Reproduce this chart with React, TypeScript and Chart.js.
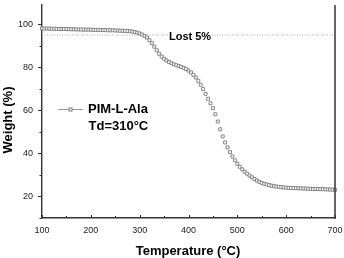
import React, { useEffect, useRef } from "react";
import { Chart, registerables } from "chart.js";

Chart.register(...registerables);

const temperatures = [
  100, 105, 110, 115, 120, 125, 130, 135, 140, 145, 150, 155, 160, 165, 170, 175, 180, 185, 190, 195,
  200, 205, 210, 215, 220, 225, 230, 235, 240, 245, 250, 255, 260, 265, 270, 275, 280, 285, 290, 295,
  300, 305, 310, 315, 320, 325, 330, 335, 340, 345, 350, 355, 360, 365, 370, 375, 380, 385, 390, 395,
  400, 405, 410, 415, 420, 425, 430, 435, 440, 445, 450, 455, 460, 465, 470, 475, 480, 485, 490, 495,
  500, 505, 510, 515, 520, 525, 530, 535, 540, 545, 550, 555, 560, 565, 570, 575, 580, 585, 590, 595,
  600, 605, 610, 615, 620, 625, 630, 635, 640, 645, 650, 655, 660, 665, 670, 675, 680, 685, 690, 695,
  700,
];

const weights = [
  98.1, 98.0, 98.0, 98.0, 97.9, 97.9, 97.9, 97.8, 97.8, 97.8, 97.8, 97.7, 97.7, 97.7, 97.6, 97.6, 97.6, 97.5, 97.5, 97.5,
  97.5, 97.4, 97.4, 97.4, 97.3, 97.3, 97.3, 97.2, 97.2, 97.2, 97.1, 97.1, 97.0, 97.0, 96.9, 96.9, 96.8, 96.6, 96.4, 96.1,
  95.7, 95.2, 94.6, 93.8, 92.6, 91.2, 89.6, 87.9, 86.3, 85.0, 84.0, 83.2, 82.5, 81.9, 81.4, 81.0, 80.6, 80.2, 79.8, 79.2,
  78.5, 77.6, 76.5, 75.3, 73.7, 71.9, 69.9, 67.7, 65.4, 63.3, 61.0, 58.2, 54.8, 51.2, 47.9, 45.1, 42.8, 40.6, 38.6, 36.8,
  35.2, 33.8, 32.6, 31.5, 30.6, 29.7, 28.9, 28.1, 27.4, 26.8, 26.3, 25.9, 25.6, 25.3, 25.0, 24.8, 24.6, 24.5, 24.3, 24.2,
  24.1, 24.0, 24.0, 23.9, 23.9, 23.8, 23.8, 23.7, 23.7, 23.6, 23.6, 23.5, 23.5, 23.5, 23.4, 23.4, 23.3, 23.3, 23.2, 23.2,
  23.1,
];

const xTicks = [100, 200, 300, 400, 500, 600, 700];
const xMinorTicks = [150, 250, 350, 450, 550, 650];
const yTicks = [20, 40, 60, 80, 100];
const yMinorTicks = [10, 30, 50, 70, 90];
const lostLevel = 95;
const lostRange = [100, 700];
const lostLabel = "Lost 5%";
const lostLabelAt = 360;
const seriesName = "PIM-L-Ala";
const tdLabel = "Td=310°C";
const xTitle = "Temperature (°C)";
const yTitle = "Weight (%)";

const FONT = "'Liberation Sans', Arial, Helvetica, sans-serif";
const AXIS_COLOR = "#333";
const MARK_COLOR = "#7a7a7a";

const decorPlugin = {
  id: "decor",
  afterDatasetsDraw(chart: any) {
    const { ctx, chartArea, scales } = chart;
    const xs = scales.x;
    const ys = scales.y;
    ctx.save();
    // Lost 5% label
    ctx.font = `bold 11px ${FONT}`;
    ctx.textBaseline = "middle";
    ctx.textAlign = "left";
    const lx = xs.getPixelForValue(lostLabelAt);
    const ly = ys.getPixelForValue(lostLevel);
    const w = ctx.measureText(lostLabel).width;
    ctx.fillStyle = "#fff";
    ctx.fillRect(lx - 1, ly - 5, w + 2, 10);
    ctx.fillStyle = "#000";
    ctx.fillText(lostLabel, lx, ly + 1.5);

    // right border
    ctx.strokeStyle = AXIS_COLOR;
    ctx.lineWidth = 1.5;
    ctx.beginPath();
    ctx.moveTo(chartArea.right, chartArea.top);
    ctx.lineTo(chartArea.right, chartArea.bottom + 0.75);
    ctx.stroke();

    // ticks
    ctx.lineWidth = 1;
    ctx.beginPath();
    xTicks.forEach((v) => {
      const p = Math.round(xs.getPixelForValue(v)) + 0.5;
      ctx.moveTo(p, chartArea.bottom);
      ctx.lineTo(p, chartArea.bottom - 3);
    });
    xMinorTicks.forEach((v) => {
      const p = Math.round(xs.getPixelForValue(v)) + 0.5;
      ctx.moveTo(p, chartArea.bottom);
      ctx.lineTo(p, chartArea.bottom - 2);
    });
    yTicks.forEach((v) => {
      const p = Math.round(ys.getPixelForValue(v)) + 0.5;
      ctx.moveTo(chartArea.left, p);
      ctx.lineTo(chartArea.left - 4, p);
    });
    yMinorTicks.forEach((v) => {
      const p = Math.round(ys.getPixelForValue(v)) + 0.5;
      ctx.moveTo(chartArea.left, p);
      ctx.lineTo(chartArea.left - 2.5, p);
    });
    ctx.stroke();

    // legend
    ctx.strokeStyle = "#999";
    ctx.lineWidth = 1;
    ctx.beginPath();
    ctx.moveTo(58, 109.5);
    ctx.lineTo(83, 109.5);
    ctx.stroke();
    ctx.fillStyle = "#fff";
    ctx.strokeStyle = MARK_COLOR;
    ctx.fillRect(69, 108, 3, 3);
    ctx.strokeRect(69, 108, 3, 3);
    ctx.fillStyle = "#000";
    ctx.font = `bold 13px ${FONT}`;
    ctx.textAlign = "left";
    ctx.textBaseline = "middle";
    ctx.fillText(seriesName, 88, 109.5);
    ctx.fillText(tdLabel, 88.5, 126);

    // axis titles
    ctx.textAlign = "center";
    ctx.fillText(xTitle, 188, 251);
    ctx.translate(8.5, 120);
    ctx.rotate(-Math.PI / 2);
    ctx.fillText(yTitle, 0, 0);
    ctx.restore();
  },
};

export default function App() {
  const ref = useRef<HTMLCanvasElement>(null);
  useEffect(() => {
    const canvas = ref.current;
    if (!canvas) return;
    const chart = new Chart(canvas, {
      type: "scatter",
      data: {
        datasets: [
          {
            label: "lost",
            type: "line",
            data: lostRange.map((x) => ({ x, y: lostLevel })),
            borderColor: "#aaa",
            borderWidth: 1,
            borderDash: [1, 1.5],
            pointRadius: 0,
            order: 2,
          } as any,
          {
            label: seriesName,
            data: temperatures.map((t, i) => ({ x: t, y: weights[i] })),
            showLine: false,
            pointStyle: "rect",
            pointRadius: 2.1,
            pointBorderWidth: 0.9,
            pointBorderColor: MARK_COLOR,
            pointBackgroundColor: "#fff",
            clip: 4,
            order: 1,
          } as any,
        ],
      },
      options: {
        animation: false,
        responsive: false,
        devicePixelRatio: 1,
        layout: { padding: { left: 0, top: 3, right: 9, bottom: 0 } },
        plugins: { legend: { display: false }, tooltip: { enabled: false } },
        scales: {
          x: {
            type: "linear",
            min: 100,
            max: 700,
            afterBuildTicks: (s: any) => {
              s.ticks = xTicks.map((value) => ({ value }));
            },
            afterFit: (s: any) => {
              s.height = 40;
              s.paddingLeft = 0;
              s.paddingRight = 0;
              s.paddingTop = 0;
              s.paddingBottom = 0;
            },
            grid: { display: false, drawTicks: false },
            border: { display: true, color: AXIS_COLOR, width: 1.6 },
            ticks: {
              padding: 7,
              maxRotation: 0,
              autoSkip: false,
              color: "#222",
              font: { family: FONT, size: 9 },
            },
          },
          y: {
            type: "linear",
            min: 10,
            max: 109,
            afterBuildTicks: (s: any) => {
              s.ticks = yTicks.map((value) => ({ value }));
            },
            afterFit: (s: any) => {
              s.width = 42;
              s.paddingLeft = 0;
              s.paddingRight = 0;
              s.paddingTop = 0;
              s.paddingBottom = 0;
            },
            grid: { display: false, drawTicks: false },
            border: { display: true, color: AXIS_COLOR, width: 1.4 },
            ticks: {
              padding: 9,
              autoSkip: false,
              color: "#222",
              font: { family: FONT, size: 9 },
            },
          },
        },
      },
      plugins: [decorPlugin],
    });
    return () => chart.destroy();
  }, []);
  return (
    <div style={{ position: "fixed", left: 0, top: 0, width: 344, height: 258, background: "#fff" }}>
      <canvas ref={ref} width={344} height={258} style={{ width: 344, height: 258, display: "block" }} />
    </div>
  );
}
